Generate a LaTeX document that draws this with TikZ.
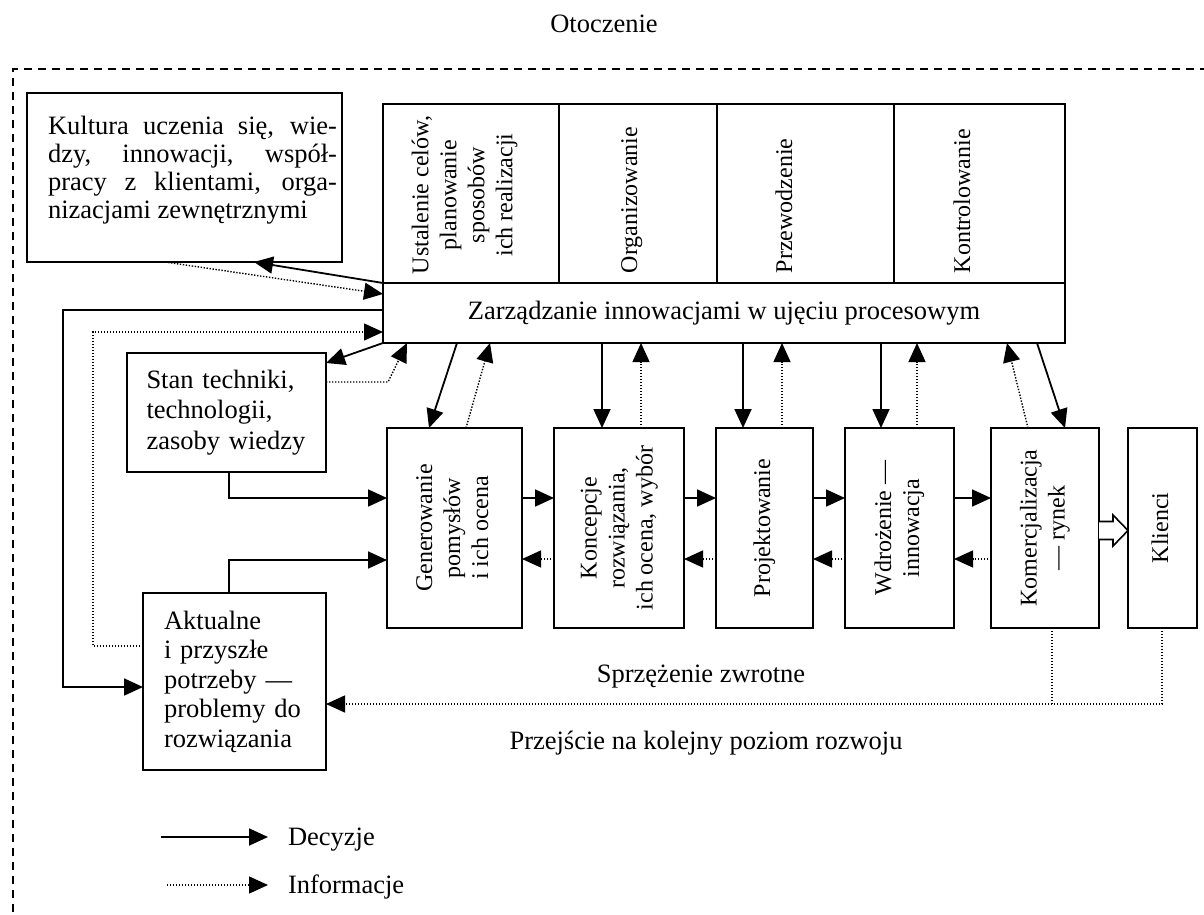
\documentclass[tikz,border=0pt]{standalone}
\usepackage{fontspec}
\setmainfont{Liberation Serif}
\usepackage{graphicx}
\usetikzlibrary{arrows.meta,calc}
\newcommand{\rtext}[1]{\rotatebox{90}{\fontsize{24pt}{28pt}\selectfont\begin{tabular}{@{}c@{}}#1\end{tabular}}}
\begin{document}
\begin{tikzpicture}[x=1pt,y=-1pt,
  every node/.style={font=\fontsize{26.5pt}{28.3pt}\selectfont, inner sep=0pt, outer sep=0pt},
  box/.style={draw, line width=1.8pt},
  mgbox/.style={draw, line width=1.6pt},
  rtxt/.style={rotate=90, font=\fontsize{24pt}{28pt}\selectfont},
  dec/.style={line width=1.8pt, -{Triangle[length=19pt,width=17pt]}},
  inf/.style={line width=1.4pt, dash pattern=on 1.4pt off 1.6pt, -{Triangle[length=19pt,width=17pt]}},
  infl/.style={line width=1.4pt, dash pattern=on 1.4pt off 1.6pt}]
\useasboundingbox (0,0) rectangle (1204,915);
% environment border
\draw[line width=2pt, dash pattern=on 8pt off 6pt] (13,940) -- (13,69) -- (1230,69);
\node[anchor=base] (oto) at (604,33) {Otoczenie};

% culture box
\node[box, minimum width=315pt, minimum height=169pt] (kult) at (184.5,177.5) {};
\node[text width=289pt, align=justify, anchor=north west,
      font=\fontsize{26.5pt}{28pt}\selectfont] (kultt) at (48,116)
  {\pretolerance=10000\tolerance=10000 Kultura uczenia się, wie-\linebreak dzy, innowacji, współ-\linebreak pracy z klientami, orga-\linebreak nizacjami zewnętrznymi};

% management box
\node[mgbox, minimum width=176pt, minimum height=179pt] (c1) at (471,193.5) {};
\node[mgbox, minimum width=158pt, minimum height=179pt] (c2) at (638,193.5) {};
\node[mgbox, minimum width=177pt, minimum height=179pt] (c3) at (805.5,193.5) {};
\node[mgbox, minimum width=171pt, minimum height=179pt] (c4) at (979.5,193.5) {};
\node[rtxt, align=center] (t1) at (464.5,195) {Ustalenie celów,\\planowanie\\sposobów\\ich realizacji};
\node[rtxt, anchor=base west] (t2) at (637,273) {Organizowanie};
\node[rtxt, anchor=base west] (t3) at (792,273) {Przewodzenie};
\node[rtxt, anchor=base west] (t4) at (970,273) {Kontrolowanie};
\node[mgbox, minimum width=682pt, minimum height=60pt] (zarz) at (724,313) {Zarządzanie innowacjami w ujęciu procesowym};

% left boxes
\node[box, minimum width=199pt, minimum height=119pt, text width=160pt, align=left,
      font=\fontsize{26.5pt}{30.5pt}\selectfont] (stan) at (226.5,412.5) {Stan techniki,\\technologii,\\zasoby wiedzy};
\node[box, minimum width=183pt, minimum height=177pt, text width=141pt, align=left,
      font=\fontsize{26.5pt}{29.5pt}\selectfont] (akt) at (234.5,681.5) {Aktualne\\i przyszłe\\potrzeby —\\problemy do\\rozwiązania};

% process boxes
\node[box, minimum width=135pt, minimum height=200pt] (gen) at (454.5,528) {\rtext{Generowanie\\pomysłów\\i ich ocena}};
\node[box, minimum width=130pt, minimum height=200pt] (kon) at (619,528) {\rtext{Koncepcje\\rozwiązania,\\ich ocena, wybór}};
\node[box, minimum width=97pt, minimum height=200pt] (proj) at (764.5,528) {\rtext{Projektowanie}};
\node[box, minimum width=109pt, minimum height=200pt] (wdr) at (899.5,528) {\rtext{Wdrożenie —\\innowacja}};
\node[box, minimum width=108pt, minimum height=200pt] (kom) at (1045,528) {\rtext{Komercjalizacja\\— rynek}};
\node[box, minimum width=69pt, minimum height=200pt] (kli) at (1162.5,528) {\rtext{Klienci}};

% labels
\node[anchor=base] (sprz) at (701,682) {Sprzężenie zwrotne};
\node[anchor=base] (prz) at (706,749) {Przejście na kolejny poziom rozwoju};

% culture connectors
\draw[dec] (zarz.north west) -- (254,0 |- kult.south);
\draw[inf] (165,0 |- kult.south) -- (zarz.west |- 0,294);

% loops to needs box
\draw[dec] (zarz.west |- 0,310) -- (63,310) -- (63,687) -- (akt.west |- 0,687);
\draw[inf] (akt.west |- 0,646) -- (93,646) -- (93,332) -- (zarz.west |- 0,332);

% state of technology
\draw[dec] (zarz.south west) -- (stan.east |- 0,363);
\draw[inf] (stan.east |- 0,382) -- (388,382) -- (407,0 |- zarz.south);
\draw[dec] (229,0 |- stan.south) |- (gen.west |- 0,498);
\draw[dec] (229,0 |- akt.north) |- (gen.west |- 0,560);

% management <-> process
\draw[dec] (457,0 |- zarz.south) -- (429,0 |- gen.north);
\draw[inf] (466,0 |- gen.north) -- (490,0 |- zarz.south);
\draw[dec] (602,0 |- zarz.south) -- (602,0 |- kon.north);
\draw[inf] (641,0 |- kon.north) -- (641,0 |- zarz.south);
\draw[dec] (743,0 |- zarz.south) -- (743,0 |- proj.north);
\draw[inf] (782,0 |- proj.north) -- (782,0 |- zarz.south);
\draw[dec] (881,0 |- zarz.south) -- (881,0 |- wdr.north);
\draw[inf] (917,0 |- wdr.north) -- (917,0 |- zarz.south);
\draw[inf] (1028,0 |- kom.north) -- (1007,0 |- zarz.south);
\draw[dec] (1037,0 |- zarz.south) -- (1065,0 |- kom.north);

% process chain
\foreach \a/\b in {gen/kon,kon/proj,proj/wdr,wdr/kom} {
  \draw[dec] (\a.east |- 0,498) -- (\b.west |- 0,498);
  \draw[inf] (\b.west |- 0,559) -- (\a.east |- 0,559);
}

% hollow arrow to clients
\draw[line width=1.6pt, line join=miter, fill=white] (kom.east |- 0,521.5) -- (1113,521.5) -- (1113,515) -- (kli.west |- 0,530.5) -- (1113,546) -- (1113,539.5) -- (kom.east |- 0,539.5);

% feedback
\draw[infl] (1052,0 |- kom.south) -- (1052,704);
\draw[inf] (1162,0 |- kli.south) |- (akt.east |- 0,704);

% legend
\coordinate (ldecs) at (161,837);
\coordinate (ldece) at (268,837);
\coordinate (linfs) at (167,885);
\coordinate (linfe) at (268,885);
\draw[dec] (ldecs) -- (ldece);
\draw[inf] (linfs) -- (linfe);
\node[anchor=base west] (ldec) at (288,845) {Decyzje};
\node[anchor=base west] (linf) at (288,893) {Informacje};
\end{tikzpicture}
\end{document}
